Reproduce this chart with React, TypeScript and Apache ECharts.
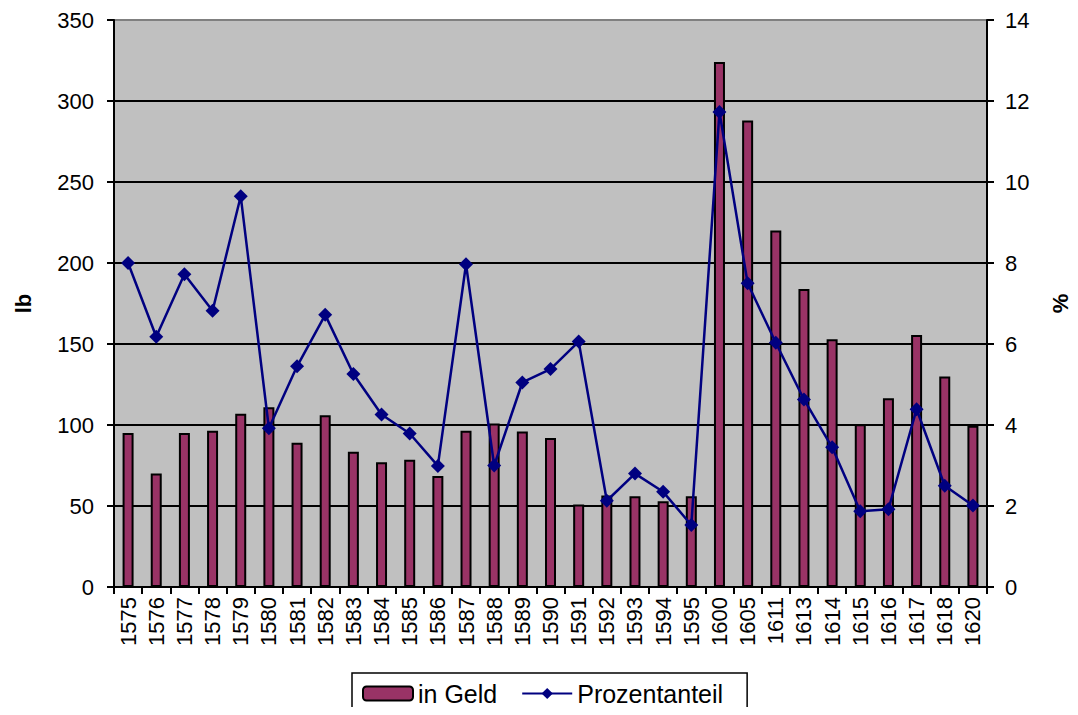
import React, { useEffect, useRef } from "react";
import * as echarts from "echarts";

const years = ["1575","1576","1577","1578","1579","1580","1581","1582","1583","1584","1585","1586","1587","1588","1589","1590","1591","1592","1593","1594","1595","1600","1605","1611","1613","1614","1615","1616","1617","1618","1620"];
const inGeld = [95, 70, 95, 96.5, 107, 111, 89, 106, 83.5, 77, 78.5, 68.5, 96.5, 101, 96, 92, 51, 56.5, 56, 53, 56, 324, 288, 220, 184, 153, 100.5, 116.5, 155.5, 130, 99.5];
const prozentanteil = [8.0, 6.18, 7.72, 6.82, 9.65, 3.92, 5.45, 6.72, 5.26, 4.26, 3.79, 2.99, 7.97, 3.0, 5.05, 5.38, 6.06, 2.13, 2.8, 2.35, 1.53, 11.73, 7.5, 6.03, 4.63, 3.45, 1.87, 1.92, 4.39, 2.5, 2.01];

const FONT = "'Liberation Sans', Arial, sans-serif";

export default function App() {
  const ref = useRef<HTMLDivElement>(null);
  useEffect(() => {
    if (!ref.current) return;
    const chart = echarts.init(ref.current, null, { renderer: "svg" });
    chart.setOption({
      animation: false,
      textStyle: { fontFamily: FONT },
      grid: {
        left: 114, right: 91, top: 20, bottom: 128,
        outerBoundsMode: "none",
        containLabel: false,
        show: true, backgroundColor: "#c0c0c0", borderWidth: 0,
      },
      legend: {
        left: 352, top: 673,
        data: ["in Geld", "Prozentanteil"],
        itemWidth: 50, itemHeight: 14, itemGap: 24,
        borderColor: "#000", borderWidth: 1.5, borderRadius: 0,
        padding: [8, 24, 14, 10],
        textStyle: { fontSize: 25, color: "#000", fontFamily: FONT },
      },
      xAxis: {
        type: "category",
        data: years,
        boundaryGap: true,
        axisLine: { lineStyle: { color: "#000", width: 2 } },
        axisTick: { show: true, interval: 0, length: 7, lineStyle: { color: "#000", width: 2 } },
        axisLabel: { interval: 0, rotate: 90, fontSize: 22, color: "#000", margin: 10, fontFamily: FONT },
      },
      yAxis: [
        {
          type: "value", min: 0, max: 350, interval: 50,
          name: "lb", nameLocation: "middle", nameGap: 80,
          nameTextStyle: { fontSize: 22, fontWeight: "bold", color: "#000", fontFamily: FONT },
          axisLine: { show: true, lineStyle: { color: "#000", width: 2 } },
          axisTick: { show: true, length: 7, lineStyle: { color: "#000", width: 2 } },
          axisLabel: { fontSize: 22, color: "#000", margin: 20, fontFamily: FONT },
          splitLine: { show: true, lineStyle: { color: ["#000", "#000", "#000", "#000", "#000", "#000", "#000", "#808080"], width: 2 } },
        },
        {
          type: "value", min: 0, max: 14, interval: 2,
          name: "%", nameLocation: "middle", nameGap: 62, nameRotate: 90,
          nameTextStyle: { fontSize: 22, fontWeight: "bold", color: "#000", fontFamily: FONT },
          axisLine: { show: true, lineStyle: { color: "#000", width: 2 } },
          axisTick: { show: true, length: 7, lineStyle: { color: "#000", width: 2 } },
          axisLabel: { fontSize: 22, color: "#000", margin: 18, fontFamily: FONT },
          splitLine: { show: false },
        },
      ],
      series: [
        {
          name: "in Geld", type: "bar", data: inGeld, yAxisIndex: 0,
          barWidth: 11,
          itemStyle: { color: "#993366", borderColor: "#000", borderWidth: 2 },
        },
        {
          name: "Prozentanteil", type: "line", data: prozentanteil, yAxisIndex: 1,
          symbol: "diamond", symbolSize: 14,
          lineStyle: { color: "#000080", width: 2.5 },
          itemStyle: { color: "#000080" },
        },
      ],
    });
    return () => chart.dispose();
  }, []);
  return <div ref={ref} style={{ width: 1078, height: 715, margin: -8 }} />;
}
